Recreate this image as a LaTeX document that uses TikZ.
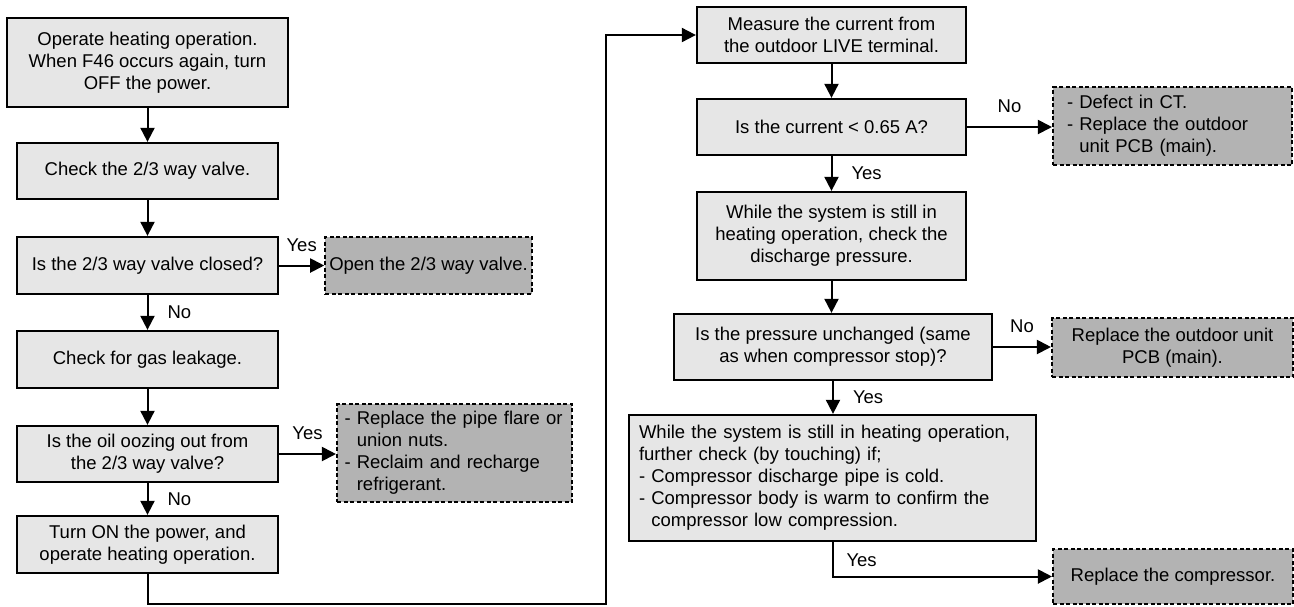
\documentclass[tikz,border=0pt]{standalone}
\usepackage{fontspec}
\setmainfont{Liberation Sans}
\usepackage{xcolor}
\usetikzlibrary{arrows.meta, positioning}
\definecolor{stepgray}{RGB}{230, 230, 230}
\definecolor{actgray}{RGB}{179, 179, 179}

\begin{document}
\begin{tikzpicture}[x=1pt, y=-1pt,
    box/.style={rectangle, draw=black, fill=stepgray, line width=2.3pt, align=center, inner sep=4pt, font=\fontsize{18.5}{22}\selectfont},
    act/.style={rectangle, draw=black, fill=actgray, line width=2.1pt, dash pattern=on 4pt off 2.5pt, align=center, inner sep=4pt, font=\fontsize{18.5}{22}\selectfont},
    arr/.style={-{Triangle[length=14pt, width=14pt]}, line width=2pt},
    lbl/.style={font=\fontsize{18.5}{22}\selectfont, inner sep=2pt}
]
\useasboundingbox (0,0) rectangle (1294,606);

% Left column
\node[box, minimum width=281pt, minimum height=89pt] (heat) at (147.5,62.5) {Operate heating operation.\\When F46 occurs again, turn\\OFF the power.};
\node[box, minimum width=261pt, minimum height=56pt] (valve) at (147.5,171) {Check the 2/3 way valve.};
\node[box, minimum width=261pt, minimum height=57pt] (closed) at (147.5,265.5) {Is the 2/3 way valve closed?};
\node[act, minimum width=187pt, minimum height=57pt] (open) at (428.5,265.5) {Open the 2/3 way valve.};
\node[box, minimum width=261pt, minimum height=57pt] (gas) at (147.5,359.5) {Check for gas leakage.};
\node[box, minimum width=261pt, minimum height=56pt] (oil) at (147.5,454) {Is the oil oozing out from\\the 2/3 way valve?};
\node[act, align=left, text width=220pt, inner xsep=7.5pt, minimum height=98pt] (flare) at (454.5,453) {- Replace the pipe flare or\\\phantom{- }union nuts.\\- Reclaim and recharge\\\phantom{- }refrigerant.};
\node[box, minimum width=261pt, minimum height=57pt] (power) at (147.5,544.5) {Turn ON the power, and\\operate heating operation.};

% Right column
\node[box, minimum width=269pt, minimum height=56pt] (measure) at (831.5,35) {Measure the current from\\the outdoor LIVE terminal.};
\node[box, minimum width=269pt, minimum height=56pt] (current) at (831.5,127) {Is the current < 0.65 A?};
\node[act, align=left, text width=211pt, inner xsep=14pt, minimum height=78pt] (ct) at (1172.5,126) {- Defect in CT.\\- Replace the outdoor\\\phantom{- }unit PCB (main).};
\node[box, minimum width=269pt, minimum height=88pt] (press) at (831.5,236) {While the system is still in\\heating operation, check the\\discharge pressure.};
\node[box, minimum width=318pt, minimum height=66pt] (same) at (833,347) {Is the pressure unchanged (same\\as when compressor stop)?};
\node[act, minimum width=241pt, minimum height=59pt] (pcb) at (1172.5,347.5) {Replace the outdoor unit\\PCB (main).};
\node[box, align=left, text width=387pt, inner xsep=10pt, minimum height=126pt] (touch) at (832.5,478) {While the system is still in heating operation,\\further check (by touching) if;\\- Compressor discharge pipe is cold.\\- Compressor body is warm to confirm the\\\phantom{- }compressor low compression.};
\node[act, minimum width=240pt, minimum height=55pt] (comp) at (1173,576.5) {Replace the compressor.};

% Arrows, left column
\draw[arr] (heat) -- (valve);
\draw[arr] (valve) -- (closed);
\draw[arr] (closed) -- (open) node[lbl, midway, above=11pt] {Yes};
\draw[arr] (closed) -- (gas) node[lbl, midway, right=17pt] {No};
\draw[arr] (gas) -- (oil);
\draw[arr] (oil.east) -- (oil.east -| flare.west) node[lbl, midway, above=11pt] {Yes};
\draw[arr] (oil) -- (power) node[lbl, midway, right=17pt] {No};

% Loop over to the right column
\coordinate (loop) at (606,604);
\draw[arr] (power.south) |- (loop) |- (measure.west);

% Arrows, right column
\draw[arr] (measure) -- (current);
\draw[arr] (current.east) -- (current.east -| ct.west) node[lbl, midway, above=11pt] {No};
\draw[arr] (current) -- (press) node[lbl, midway, right=17pt] {Yes};
\draw[arr] (press.south) -- (press.south |- same.north);
\draw[arr] (same.east) -- (same.east -| pcb.west) node[lbl, midway, above=11pt] {No};
\draw[arr] (same.south) -- (same.south |- touch.north) node[lbl, midway, right=17pt] {Yes};
\coordinate (corner) at (touch.south |- comp.west);
\draw[arr] (touch.south) -- (corner) node[lbl, anchor=south west, xshift=11pt, yshift=7pt] {Yes} -- (comp.west);

\end{tikzpicture}
\end{document}
